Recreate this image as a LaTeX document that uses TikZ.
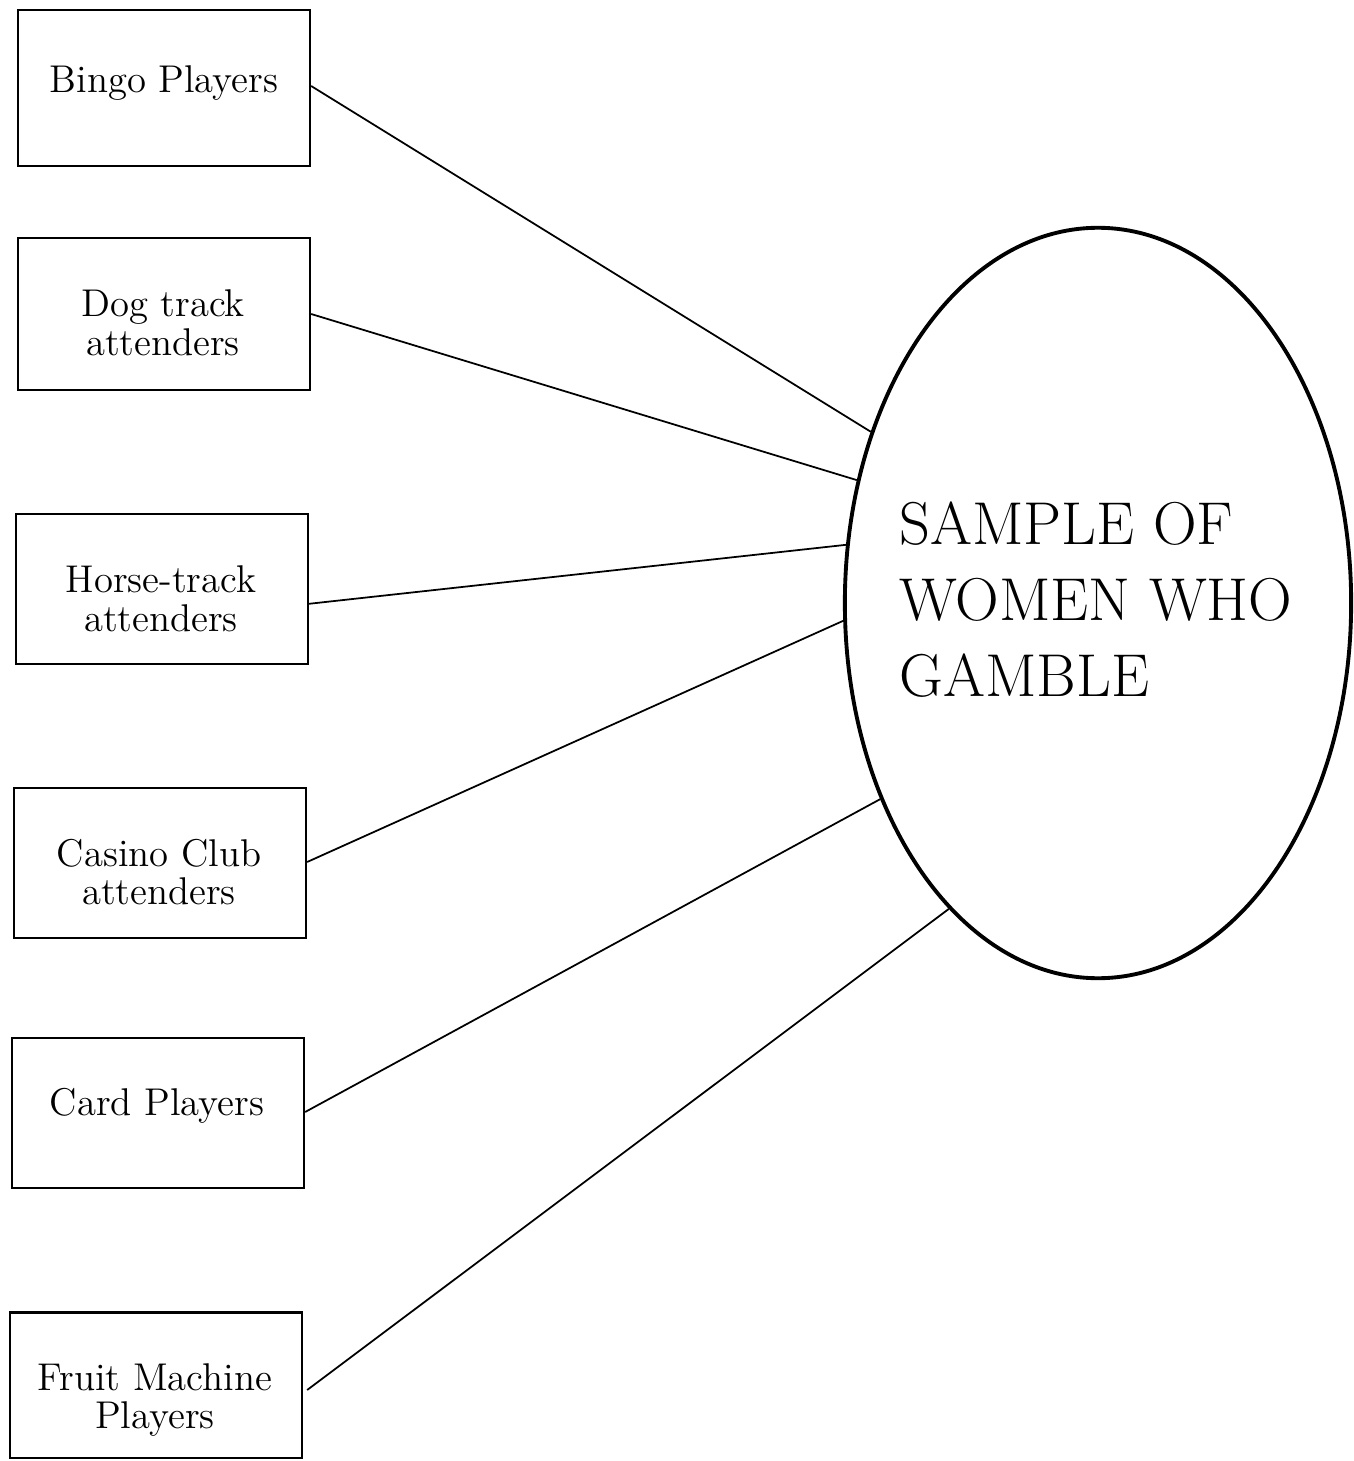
\documentclass[tikz,border=0pt]{standalone}
\usetikzlibrary{shapes.geometric,calc}
\begin{document}
\begin{tikzpicture}[x=0.01cm,y=-0.01cm,
  group/.style={draw,line width=0.6pt,minimum width=2.92cm,inner sep=0pt},
  grouptext/.style={inner sep=0pt,align=center,font=\fontsize{11}{11}\selectfont},
  sample/.style={draw,ellipse,line width=1.1pt,minimum width=5.06cm,
    minimum height=7.5cm,inner sep=0pt},
  sampletext/.style={inner sep=0pt,align=left,font=\fontsize{17.2}{21.6}\selectfont},
  link/.style={line width=0.5pt}]
\useasboundingbox (0,0) rectangle (1353,1461);

% groups of gamblers
\node[group,minimum height=1.56cm] (bingo) at (164,88) {};
\node[group,minimum height=1.52cm] (dog) at (164,314) {};
\node[group,minimum height=1.50cm] (horse) at (162,589) {};
\node[group,minimum height=1.50cm] (casino) at (160,863) {};
\node[group,minimum height=1.50cm] (card) at (158,1113) {};
\node[group,minimum height=1.45cm] (fruit) at (156,1385) {};

\node[grouptext] (bingot) at (164,83) {Bingo Players};
\node[grouptext] (dogt) at (163,323) {Dog track\\attenders};
\node[grouptext] (horset) at (161,599) {Horse-track\\attenders};
\node[grouptext] (casinot) at (159,872) {Casino Club\\attenders};
\node[grouptext] (cardt) at (157,1106) {Card Players};
\node[grouptext] (fruitt) at (155,1400) {Fruit Machine\\Players};

% the sample
\node[sample] (women) at (1098,603) {};
\node[sampletext] (womentext) at (1096,600) {SAMPLE OF\\WOMEN WHO\\GAMBLE};

% connectors
\draw[link] ($(bingo.east)+(0,-2)$) -- (women.143.5);
\draw[link] (dog.east) -- (women.153.2);
\draw[link] ($(horse.east)+(-2,15)$) -- (women.167.7);
\draw[link] ($(casino.east)+(0,-1)$) -- (women.184.3);
\draw[link] ($(card.east)+(0,-1)$) -- (women.222.4);
\draw[link] ($(fruit.east)+(4,5)$) -- (women.244.1);
\end{tikzpicture}
\end{document}
